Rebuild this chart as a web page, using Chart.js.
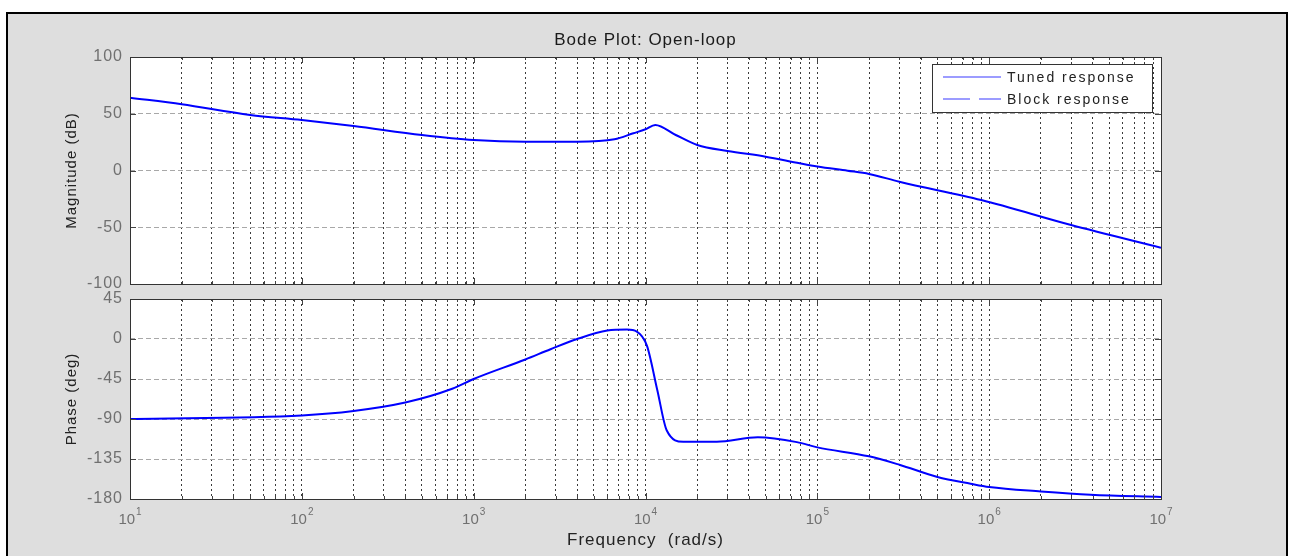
<!DOCTYPE html>
<html>
<head>
<meta charset="utf-8">
<script src="https://cdn.jsdelivr.net/npm/chart.js@4.4.0/dist/chart.umd.min.js"></script>
<style>
  body { margin: 0; background: #fff; width: 1292px; height: 556px; overflow: hidden; position: relative; }
  #frame { position: absolute; left: 6px; top: 12px; width: 1278px; height: 550px; border: 2px solid #000; background: #dedede; }
  canvas { position: absolute; left: 0; }
  #mag { top: 0; }
  #phase { top: 284px; }
</style>
</head>
<body>
<div id="frame"></div>
<canvas id="mag" width="1292" height="299" style="width:1292px;height:299px"></canvas>
<canvas id="phase" width="1292" height="272" style="width:1292px;height:272px"></canvas>
<script>
// magnitude curve (rad/s, dB)
var magFreq = [10, 20, 50, 100, 200, 500, 1000, 2000, 4000, 6600, 8500, 10000, 11400, 15000, 20000, 30000, 50000, 79000, 100000, 150000, 200000, 300000, 900000, 3000000, 10000000];
var magDb   = [64.2, 58.3, 49, 44.5, 39.2, 31.3, 26.9, 25.4, 25.4, 27.5, 32.8, 36.3, 40.1, 31.3, 22.5, 17.2, 12.2, 6.3, 3.5, -0.2, -3.0, -9.9, -26, -48, -68];

// phase curve (rad/s, deg)
var phaseFreq = [10, 100, 200, 400, 750, 1000, 2000, 2800, 4000, 6000, 7800, 8900, 10200, 11700, 13300, 16600, 26000, 45000, 76000, 100000, 200000, 300000, 500000, 780000, 1000000, 2000000, 3900000, 10000000];
var phaseDeg  = [-90, -86, -81, -71.5, -56, -45, -23, -11.5, 0, 9.5, 10.6, 8.4, -7.7, -57, -103, -115.6, -115.6, -110.6, -116, -121.9, -132, -141.4, -155.2, -162.8, -166.5, -171.5, -175.2, -177.7];

var decades = [1, 2, 3, 4, 5, 6, 7];
var minorSteps = [1, 2, 3, 4, 5, 6, 7, 8, 9];
var magTicks = [-100, -50, 0, 50, 100];
var phaseTicks = [-180, -135, -90, -45, 0, 45];
var legendLabels = ['Tuned response', 'Block response'];

var gridFreqs = [];
decades.forEach(function (d) {
  if (d === 7) { gridFreqs.push(Math.pow(10, d)); return; }
  minorSteps.forEach(function (m) { gridFreqs.push(m * Math.pow(10, d)); });
});

var FONT = '"Liberation Sans", Arial, sans-serif';
Chart.defaults.font.family = FONT;

function toPoints(xs, ys) {
  return xs.map(function (x, i) { return { x: x, y: ys[i] }; });
}

function xScale(height, title) {
  return {
    type: 'logarithmic',
    min: 10,
    max: 1e7,
    afterBuildTicks: function (s) {
      s.ticks = gridFreqs.map(function (v) { return { value: v }; });
    },
    afterFit: function (s) { s.height = height; },
    ticks: { display: false },
    grid: { color: '#3a3a3a', lineWidth: 1, drawTicks: false },
    border: { display: false, dash: [2, 3] },
    title: title
  };
}

function yScale(min, max, ticks, label) {
  return {
    min: min,
    max: max,
    afterBuildTicks: function (s) {
      s.ticks = ticks.map(function (v) { return { value: v }; });
    },
    afterFit: function (s) { s.width = 71; },
    ticks: { color: '#707070', font: { size: 16, lineHeight: 1 }, padding: 7 },
    grid: { color: '#a8a8a8', lineWidth: 1, drawTicks: false },
    border: { display: false, dash: [5, 3] },
    title: { display: true, text: label, color: '#222', font: { size: 15 }, padding: { top: 4, bottom: 4 } }
  };
}

// MATLAB-like wide text spacing for everything Chart.js writes
var spacing = {
  id: 'spacing',
  beforeUpdate: function (chart) { chart.ctx.letterSpacing = '1px'; },
  beforeDraw: function (chart) { chart.ctx.letterSpacing = '1px'; }
};

// white plot area, axis box and inward tick marks
var boxPlugin = {
  id: 'box',
  beforeDraw: function (chart) {
    var a = chart.chartArea, ctx = chart.ctx;
    ctx.save();
    ctx.fillStyle = '#fff';
    ctx.fillRect(a.left, a.top, a.right - a.left, a.bottom - a.top);
    ctx.restore();
  },
  afterDraw: function (chart) {
    var a = chart.chartArea, ctx = chart.ctx;
    var xs = chart.scales.x, ys = chart.scales.y;
    ctx.save();
    ctx.strokeStyle = '#444';
    ctx.lineWidth = 1;
    ctx.beginPath();
    gridFreqs.forEach(function (v) {
      var px = Math.round(xs.getPixelForValue(v)) + 0.5;
      var lg = Math.log10(v);
      var len = Math.abs(lg - Math.round(lg)) < 1e-9 ? 6 : 3;
      ctx.moveTo(px, a.top); ctx.lineTo(px, a.top + len);
      ctx.moveTo(px, a.bottom); ctx.lineTo(px, a.bottom - len);
    });
    ys.ticks.forEach(function (t) {
      var py = Math.round(ys.getPixelForValue(t.value)) + 0.5;
      ctx.moveTo(a.left, py); ctx.lineTo(a.left + 6, py);
      ctx.moveTo(a.right, py); ctx.lineTo(a.right - 6, py);
    });
    ctx.stroke();
    ctx.strokeStyle = '#333';
    ctx.strokeRect(Math.round(a.left) + 0.5, Math.round(a.top) + 0.5, Math.round(a.right - a.left), Math.round(a.bottom - a.top));
    ctx.restore();
  }
};

var legendPlugin = {
  id: 'boxLegend',
  afterDraw: function (chart) {
    var ctx = chart.ctx;
    ctx.save();
    ctx.fillStyle = '#fff';
    ctx.fillRect(932, 64, 220, 48);
    ctx.strokeStyle = '#333';
    ctx.lineWidth = 1;
    ctx.strokeRect(932.5, 64.5, 220, 48);
    ctx.strokeStyle = '#9c9cff';
    ctx.lineWidth = 2;
    ctx.beginPath();
    ctx.moveTo(943, 77); ctx.lineTo(1001, 77);
    ctx.moveTo(943, 99); ctx.lineTo(970, 99);
    ctx.moveTo(979, 99); ctx.lineTo(1001, 99);
    ctx.stroke();
    ctx.fillStyle = '#222';
    ctx.font = '14px ' + FONT;
    ctx.letterSpacing = '2px';
    ctx.textBaseline = 'middle';
    ctx.fillText(legendLabels[0], 1007, 78);
    ctx.fillText(legendLabels[1], 1007, 100);
    ctx.restore();
  }
};

// decade labels 10^n under the phase plot
var expLabels = {
  id: 'expLabels',
  afterDraw: function (chart) {
    var ctx = chart.ctx, xs = chart.scales.x;
    ctx.save();
    ctx.letterSpacing = '0px';
    ctx.fillStyle = '#707070';
    ctx.textBaseline = 'alphabetic';
    decades.forEach(function (d) {
      var px = xs.getPixelForValue(Math.pow(10, d));
      ctx.font = '15px ' + FONT;
      var w1 = ctx.measureText('10').width;
      ctx.font = '10px ' + FONT;
      var w2 = ctx.measureText(String(d)).width;
      var x0 = px - (w1 + w2 + 1) / 2;
      ctx.font = '15px ' + FONT;
      ctx.fillText('10', x0, 240);
      ctx.font = '10px ' + FONT;
      ctx.fillText(String(d), x0 + w1 + 1, 231);
    });
    ctx.restore();
  }
};

var common = {
  responsive: false,
  animation: false,
  events: [],
  elements: { point: { radius: 0 } }
};

new Chart(document.getElementById('mag').getContext('2d'), {
  type: 'line',
  data: {
    datasets: [{
      label: legendLabels[0],
      data: toPoints(magFreq, magDb),
      borderColor: '#0000ff',
      borderWidth: 2,
      cubicInterpolationMode: 'monotone',
      fill: false
    }]
  },
  options: Object.assign({}, common, {
    layout: { padding: { left: 59, right: 131, top: 0, bottom: 0 } },
    plugins: {
      legend: { display: false },
      tooltip: { enabled: false },
      title: {
        display: true,
        fullSize: false,
        text: 'Bode Plot: Open-loop',
        color: '#1a1a1a',
        font: { size: 17, weight: 'normal', lineHeight: 1.2 },
        padding: { top: 30, bottom: 6.6 }
      }
    },
    scales: {
      x: xScale(0, { display: false }),
      y: yScale(-100, 100, magTicks, 'Magnitude (dB)')
    }
  }),
  plugins: [spacing, boxPlugin, legendPlugin]
});

new Chart(document.getElementById('phase').getContext('2d'), {
  type: 'line',
  data: {
    datasets: [{
      label: legendLabels[0],
      data: toPoints(phaseFreq, phaseDeg),
      borderColor: '#0000ff',
      borderWidth: 2,
      cubicInterpolationMode: 'monotone',
      fill: false
    }]
  },
  options: Object.assign({}, common, {
    layout: { padding: { left: 59, right: 131, top: 0, bottom: 0 } },
    plugins: { legend: { display: false }, tooltip: { enabled: false } },
    scales: {
      x: xScale(57, { display: true, text: 'Frequency  (rad/s)', color: '#222', font: { size: 17 }, padding: { top: 4, bottom: 5 } }),
      y: yScale(-180, 45, phaseTicks, 'Phase (deg)')
    }
  }),
  plugins: [spacing, boxPlugin, expLabels]
});
</script>
</body>
</html>
